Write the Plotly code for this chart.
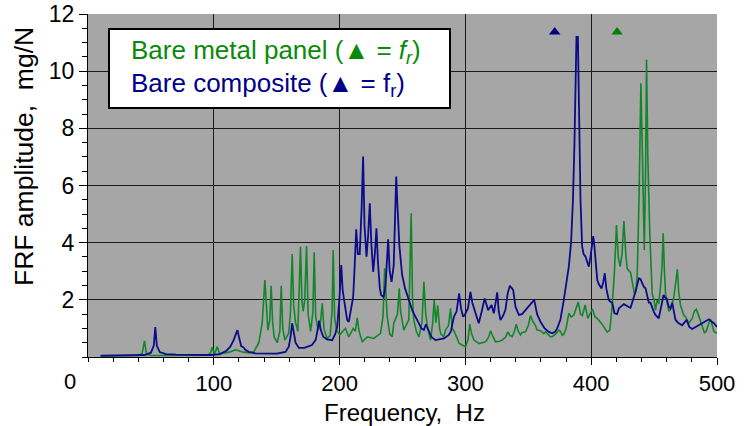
import plotly.graph_objects as go

# ---- Data ----
metal_freq = [10, 40, 43, 44.9, 46.5, 50, 95, 97.5, 98.7, 100.5, 102.7, 104.5, 109, 113, 117.3, 122.6, 128,
              131.8, 135.8, 138.5, 140.6, 141.9, 143, 144.5, 145.6, 146.8, 148, 150.4, 152.5, 153.6, 154.8,
              156.5, 159.6, 161, 162.3, 163.5, 165, 166.8, 168.9, 170, 171, 172.3, 173.7, 175, 177, 178.8,
              179.8, 181, 183, 185, 186.2, 187.5, 190, 192.5, 194, 194.9, 196, 197.5, 200.2, 202.5, 204.7,
              207.3, 209.5, 210.8, 212.5, 214, 215.5, 218, 222, 227.2, 232.5, 234.5, 235.8, 236.8, 237.8,
              239.9, 241.8, 243.1, 246, 247.4, 248.5, 251, 253, 255, 256.9, 258, 259, 261, 263, 265.5, 267,
              268.5, 270, 272.3, 274, 275.2, 276.5, 278, 279.5, 280.5, 282.8, 284.2, 286.5, 288.2, 289.5,
              290.8, 293.5, 295, 297.4, 300.1, 302, 303.5, 305, 306.7, 310.7, 313, 316, 318.5, 320, 322, 324,
              327, 329.3, 332, 333.7, 335.5, 337.2, 339, 340.4, 342, 343.8, 345.1, 347.8, 350, 351.7, 353.5,
              355.7, 357, 359.7, 362.3, 363.7, 367.6, 369, 371.6, 374.3, 375.5, 377, 378.2, 380, 382.2, 384,
              386.2, 389.7, 391.5, 393, 395.2, 397.3, 399, 401, 403, 404.8, 408.7, 412.7, 414.8, 416.7, 418.5,
              420.1, 421.5, 423, 424.5, 426, 427.5, 428.6, 431.3, 433, 434.4, 435.5, 436.6, 438, 439.5, 440.5,
              441.1, 442.2, 443.2, 444, 445, 446.6, 448.5, 450, 451.1, 452.5, 453.7, 455.1, 456.3, 457.2,
              458.2, 459.1, 461.7, 463, 465.7, 467, 468.5, 469.5, 471, 473.6, 475, 477.6, 480.3, 482, 483.5,
              485, 486.9, 490, 491.5, 494, 495, 497.5, 500]
metal_amp = [0.03, 0.05, 0.12, 0.56, 0.10, 0.05, 0.06, 0.15, 0.34, 0.10, 0.36, 0.12, 0.14, 0.18, 0.25, 0.18, 0.14,
             0.18, 0.50, 1.20, 2.69, 1.50, 0.94, 1.30, 2.49, 1.20, 0.70, 0.50, 0.90, 2.49, 1.00,
             0.59, 0.84, 1.60, 3.60, 1.80, 1.20, 0.90, 3.86, 2.00, 1.60, 2.00, 3.88, 1.50, 0.90, 1.60,
             3.66, 1.40, 0.94, 1.30, 1.88, 1.00, 0.65, 0.75, 1.60, 3.74, 1.40, 0.94, 0.77, 0.90, 1.00,
             0.70, 0.90, 1.00, 0.90, 1.37, 0.90, 0.53, 0.70, 0.65, 0.83, 1.40, 3.10, 2.00, 1.41,
             0.80, 0.71, 1.18, 1.50, 2.40, 1.60, 0.94, 1.10, 1.30, 5.03, 2.00, 1.29, 0.90, 0.70, 1.20, 2.63,
             1.50, 1.00, 0.59, 1.20, 1.99, 1.20, 1.80, 1.00, 0.80, 0.71, 0.94, 1.10, 1.70, 1.00,
             0.92, 0.65, 0.48, 0.42, 0.36, 0.60, 1.15, 0.80, 0.60, 0.47, 0.50, 0.53, 0.70, 0.92, 0.70, 0.53,
             0.55, 0.59, 0.70, 0.88, 0.75, 0.71, 0.90, 1.15, 0.90, 0.77, 0.86, 0.88, 1.10, 1.45, 1.25,
             1.10, 0.94, 0.92, 0.82, 0.88, 0.71, 0.71, 0.80, 0.94, 0.90, 0.76, 0.80, 1.00, 1.53, 1.40,
             1.47, 1.92, 1.50, 1.45, 1.82, 1.35, 1.50, 1.68, 1.40, 1.35, 1.15, 0.87, 0.94, 1.80, 3.00,
             4.62, 3.50, 3.16, 3.60, 4.76, 3.60, 3.10, 2.95, 2.60, 2.20, 2.30, 2.90, 5.50, 9.58, 7.50,
             6.00, 3.74, 6.50, 10.40, 7.00, 4.30, 2.20, 2.00, 1.64, 2.00, 1.87, 2.45, 3.20, 4.33,
             3.00, 2.20, 1.60, 1.65, 2.10, 2.58, 3.07, 2.30, 1.80, 1.47, 1.40, 1.18, 1.35, 1.60, 1.67,
             1.50, 1.23, 0.85, 0.90, 1.25, 1.29, 0.90, 0.82]

comp_freq = [10, 45, 50, 52.3, 53.5, 54.7, 57, 62, 70, 98, 105, 110, 113, 115.9, 117.5, 118.8, 120, 121.8,
             123.8, 125, 127.8, 133, 150, 157, 159.6, 161, 162.3, 163.5, 165, 167.6, 172, 178, 181, 182.5,
             183.7, 185, 187, 190, 194.1, 196.5, 198.1, 199.8, 201.3, 202.5, 204.7, 206, 207.3, 209, 210.8,
             212, 213.2, 214.5, 216, 217.5, 218.7, 219.8, 220.5, 221.4, 222.6, 224, 225.2, 226.7, 228,
             229.3, 230.5, 232, 233, 235, 236.5, 237.5, 238.6, 239.8, 241.3, 243, 244, 245, 246, 247.5,
             249.7, 252, 255, 258, 261.7, 265, 267, 268.5, 270, 273, 276.2, 280, 283, 286.8, 288.5, 290.8,
             293, 295, 296.5, 298.2, 299.5, 302, 304, 305.5, 308, 310.6, 313, 315.3, 317, 318, 320.8, 322.6,
             324, 325.3, 326.5, 327.9, 330, 331.8, 333.5, 335.3, 337, 338, 339.8, 342.5, 345, 347.8, 351.2,
             354.7, 357, 359.7, 363, 366.3, 369, 371, 373, 375.5, 378.2, 380.5, 382.2, 384, 385.5, 386.7,
             387.7, 388.3, 389.4, 390.2, 391.5, 392.8, 394, 395.5, 397, 398.1, 399.4, 400.6, 401.6, 402.5,
             403.4, 404.8, 406, 408.2, 409.5, 410.8, 412, 412.7, 414, 415.3, 416.7, 418.5, 420.6, 421.9,
             426, 429.9, 431.3, 433.9, 435.2, 437.9, 439.2, 441.8, 443.2, 445.8, 447.1, 449.8, 451.1, 453.7,
             456.4, 457.5, 458.3, 459.9, 461.7, 463, 464.4, 467, 469, 472.3, 474, 475.8, 478, 480.3, 483,
             485.6, 489.6, 493.6, 495.5, 497.5, 500]
comp_amp = [0.05, 0.07, 0.15, 0.40, 1.05, 0.40, 0.17, 0.10, 0.08, 0.07, 0.10, 0.22, 0.35, 0.60, 0.80, 0.94, 0.70, 0.38,
            0.33, 0.25, 0.18, 0.13, 0.12, 0.18, 0.36, 0.70, 1.18, 0.80, 0.50, 0.32, 0.32, 0.42, 0.60, 0.95,
            1.27, 0.95, 0.71, 0.62, 0.59, 0.80, 1.06, 2.00, 3.22, 2.30, 1.64, 1.30, 1.23, 1.60, 2.11,
            3.20, 4.47, 3.60, 3.60, 5.20, 7.01, 4.60, 4.00, 3.51, 4.20, 5.38, 4.00, 2.98, 3.60,
            4.50, 3.30, 2.40, 2.17, 2.10, 2.50, 3.30, 4.12, 3.00, 2.63, 3.20, 4.60, 6.31, 5.30, 3.90,
            2.87, 2.40, 2.00, 1.60, 1.29, 1.00, 0.95, 1.14, 1.00, 0.70, 0.59, 0.62, 0.65, 0.77, 0.90, 1.40,
            1.60, 2.23, 1.70, 1.41, 1.47, 1.70, 2.28, 1.90, 1.53, 1.18, 1.60, 2.05, 1.80, 1.64, 1.82, 1.53,
            1.90, 2.26, 1.60, 1.29, 1.45, 1.64, 2.20, 2.49, 2.40, 2.34, 1.76, 1.47, 1.50, 1.64, 1.82,
            2.00, 1.50, 1.23, 1.00, 0.88, 0.83, 0.87, 1.00, 1.30, 1.99, 2.70, 3.16, 4.00, 5.50, 7.50,
            9.50, 11.20, 11.20, 8.40, 5.50, 3.86, 3.60, 3.51, 3.30, 3.16, 3.50, 4.00, 4.23, 3.90,
            3.50, 2.70, 2.55, 2.40, 2.60, 2.93, 2.40, 2.20, 1.99, 1.93, 1.90, 1.53, 1.50, 1.70,
            1.85, 1.75, 1.72, 2.10, 2.28, 2.75, 2.72, 2.46, 2.40, 1.90, 1.90, 1.58, 1.47, 1.35,
            1.93, 2.17, 2.10, 2.05, 1.76, 1.70, 1.90, 1.30, 1.20, 1.11, 1.20, 1.30, 1.05, 0.98, 1.05,
            1.11, 1.23, 1.32, 1.25, 1.18, 1.05]

# resonance-frequency markers
fr_metal = [420.6]
fr_comp = [371.0]
fr_marker_level = [11.37]

x_ticks = [100, 200, 300, 400, 500]
x_ticktext = ["100", "200", "300", "400", "500"]
y_ticks = [2, 4, 6, 8, 10, 12]
y_ticktext = ["2", "4", "6", "8", "10", "12"]

GREEN = "#13862a"
GREEN_TXT = "#0a8a0a"
BLUE = "#0b0b8c"
BLUE_TXT = "#000088"
FONT = "Liberation Sans, Arial, sans-serif"

# plot-area geometry in pixels
L, R, T, B = 88, 717, 14, 357
W, H = R - L, B - T


def px(xp):
    return (xp - L) / W


def py(yp):
    return (B - yp) / H


fig = go.Figure()
fig.add_trace(go.Scatter(x=metal_freq, y=metal_amp, mode="lines",
                         line=dict(color=GREEN, width=1.6), showlegend=False))
fig.add_trace(go.Scatter(x=comp_freq, y=comp_amp, mode="lines",
                         line=dict(color=BLUE, width=1.8), showlegend=False))
fig.add_trace(go.Scatter(x=fr_metal, y=fr_marker_level, mode="markers",
                         marker=dict(symbol="triangle-up", size=10, color="#008000"), showlegend=False))
fig.add_trace(go.Scatter(x=fr_comp, y=fr_marker_level, mode="markers",
                         marker=dict(symbol="triangle-up", size=10, color="#000080"), showlegend=False))

# legend box
fig.add_shape(type="rect", xref="paper", yref="paper",
              x0=px(109), x1=px(450), y0=py(108), y1=py(29),
              fillcolor="white", line=dict(color="black", width=2), layer="above")
fig.add_annotation(xref="paper", yref="paper", x=px(129), y=py(52),
                   xanchor="left", yanchor="middle", showarrow=False,
                   text="Bare metal panel (▲ = <i>f<sub>r</sub></i>)",
                   font=dict(family=FONT, size=26, color=GREEN_TXT))
fig.add_annotation(xref="paper", yref="paper", x=px(129), y=py(84),
                   xanchor="left", yanchor="middle", showarrow=False,
                   text="Bare composite (▲ = f<sub>r</sub>)",
                   font=dict(family=FONT, size=26, color=BLUE_TXT))
# the shared origin label
fig.add_annotation(xref="paper", yref="paper", x=px(70), y=py(381),
                   xanchor="center", yanchor="middle", showarrow=False,
                   text="0", font=dict(family=FONT, size=22, color="black"))
# axis titles
fig.add_annotation(xref="paper", yref="paper", x=px(405), y=py(412),
                   xanchor="center", yanchor="middle", showarrow=False,
                   text="Frequency,  Hz", font=dict(family=FONT, size=24, color="black"))
fig.add_annotation(xref="paper", yref="paper", x=px(24), y=py(157),
                   xanchor="center", yanchor="middle", showarrow=False, textangle=-90,
                   text="FRF amplitude,  mg/N", font=dict(family=FONT, size=26.5, color="black"))

fig.update_layout(
    width=744, height=426,
    margin=dict(l=L, r=744 - R, t=T, b=426 - B, autoexpand=False),
    paper_bgcolor="white",
    plot_bgcolor="#a6a6a6",
    font=dict(family=FONT, size=22, color="black"),
    xaxis=dict(range=[0, 500], tickmode="array", tickvals=x_ticks, ticktext=x_ticktext,
               ticks="outside", ticklen=7, tickwidth=1, tickcolor="black",
               minor=dict(tickmode="linear", tick0=0, dtick=20, ticks="outside", ticklen=4,
                          tickcolor="black", showgrid=False),
               showgrid=True, gridcolor="#1a1a1a", gridwidth=1,
               showline=True, linecolor="black", linewidth=1, mirror=False,
               zeroline=False, tickfont=dict(size=22), automargin=False),
    yaxis=dict(range=[0, 12], tickmode="array", tickvals=y_ticks, ticktext=y_ticktext,
               ticks="outside", ticklen=8, tickwidth=1, tickcolor="black",
               minor=dict(tickmode="linear", tick0=0, dtick=0.5, ticks="outside", ticklen=5,
                          tickcolor="black", showgrid=False),
               showgrid=True, gridcolor="#1a1a1a", gridwidth=1,
               showline=True, linecolor="black", linewidth=1,
               zeroline=False, tickfont=dict(size=23), automargin=False),
)

fig.write_html("out.html")
